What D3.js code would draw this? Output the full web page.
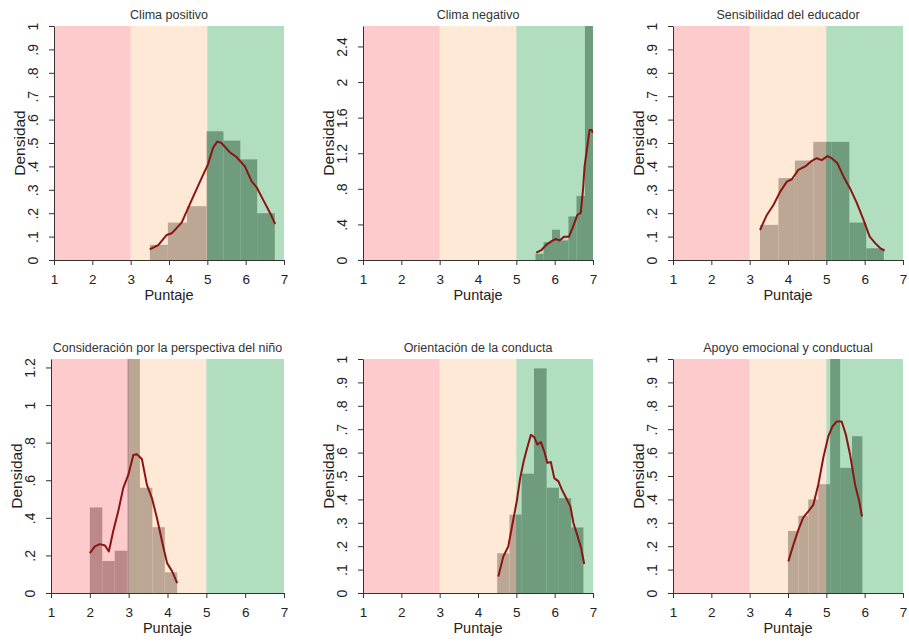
<!DOCTYPE html>
<html>
<head>
<meta charset="utf-8">
<script src="https://cdn.jsdelivr.net/npm/d3@7"></script>
<style>
  html, body { margin: 0; padding: 0; background: #ffffff; }
  svg { display: block; font-family: "Liberation Sans", Arial, sans-serif; }
</style>
</head>
<body>
<svg id="chart" width="909" height="642"></svg>
<script>
// ---------------- DATA ----------------
const panelTitles = [
  "Clima positivo",
  "Clima negativo",
  "Sensibilidad del educador",
  "Consideración por la perspectiva del niño",
  "Orientación de la conducta",
  "Apoyo emocional y conductual"
];
const xTickValues = [1, 2, 3, 4, 5, 6, 7];
const xTitle = "Puntaje";
const yTitle = "Densidad";

// score bands (Puntaje): low / medium / high
const bandStarts = [1, 3, 5];
const bandEnds = [3, 5, 7];

// y-axis maxima and ticks
const yMaxima = [1, 2.63, 1, 1.245, 1, 1];
const yTicksUnit = [0, 0.1, 0.2, 0.3, 0.4, 0.5, 0.6, 0.7, 0.8, 0.9, 1];
const yTicksNeg = [0, 0.4, 0.8, 1.2, 1.6, 2, 2.4];
const yTicksPersp = [0, 0.2, 0.4, 0.6, 0.8, 1, 1.2];

// histograms: bin edges and densities
const posEdges = [3.5, 3.97, 4.47, 4.98, 5.42, 5.86, 6.3, 6.76];
const posDens  = [0.065, 0.16, 0.23, 0.55, 0.51, 0.43, 0.20];
const negEdges = [5.5, 5.71, 5.93, 6.14, 6.36, 6.57, 6.79, 7.0];
const negDens  = [0.07, 0.2, 0.34, 0.22, 0.49, 0.72, 2.63];
const senEdges = [3.27, 3.75, 4.18, 4.66, 5.13, 5.6, 6.04, 6.5];
const senDens  = [0.15, 0.35, 0.425, 0.505, 0.505, 0.16, 0.05];
const perEdges = [2.0, 2.32, 2.64, 2.97, 3.29, 3.61, 3.93, 4.25];
const perDens  = [0.455, 0.17, 0.225, 1.245, 0.56, 0.35, 0.11];
const oriEdges = [4.5, 4.82, 5.14, 5.46, 5.79, 6.11, 6.43, 6.75];
const oriDens  = [0.17, 0.335, 0.51, 0.96, 0.45, 0.405, 0.28];
const apoEdges = [4.0, 4.27, 4.53, 4.79, 5.1, 5.36, 5.67, 5.94];
const apoDens  = [0.265, 0.33, 0.40, 0.465, 1.0, 0.535, 0.67];

// kernel density curves
const posKdeX = [3.5, 3.72, 3.94, 4.07, 4.33, 4.59, 4.85, 5.02, 5.15, 5.26, 5.37, 5.59, 5.76, 5.98, 6.16, 6.29, 6.46, 6.64, 6.77];
const posKdeY = [0.046, 0.064, 0.107, 0.114, 0.16, 0.256, 0.35, 0.41, 0.48, 0.506, 0.50, 0.46, 0.44, 0.40, 0.335, 0.31, 0.256, 0.20, 0.154];
const negKdeX = [5.52, 5.65, 5.78, 5.91, 6.02, 6.13, 6.24, 6.37, 6.48, 6.59, 6.68, 6.74, 6.78, 6.85, 6.91, 6.97, 7.0];
const negKdeY = [0.082, 0.11, 0.17, 0.21, 0.236, 0.22, 0.26, 0.26, 0.375, 0.506, 0.53, 0.79, 1.05, 1.27, 1.46, 1.46, 1.43];
const senKdeX = [3.27, 3.44, 3.62, 3.79, 3.97, 4.10, 4.27, 4.45, 4.62, 4.75, 4.88, 5.03, 5.14, 5.29, 5.45, 5.62, 5.80, 5.97, 6.13, 6.28, 6.41, 6.52];
const senKdeY = [0.128, 0.19, 0.235, 0.29, 0.335, 0.345, 0.385, 0.40, 0.424, 0.435, 0.427, 0.444, 0.435, 0.413, 0.356, 0.306, 0.242, 0.171, 0.10, 0.071, 0.05, 0.04];
const perKdeX = [2.0, 2.13, 2.26, 2.39, 2.49, 2.60, 2.73, 2.86, 2.99, 3.12, 3.21, 3.34, 3.47, 3.60, 3.73, 3.86, 3.99, 4.12, 4.25];
const perKdeY = [0.212, 0.248, 0.26, 0.253, 0.221, 0.327, 0.433, 0.558, 0.628, 0.734, 0.738, 0.713, 0.575, 0.504, 0.398, 0.274, 0.159, 0.115, 0.053];
const oriKdeX = [4.53, 4.66, 4.79, 4.88, 5.01, 5.10, 5.19, 5.27, 5.38, 5.47, 5.55, 5.64, 5.73, 5.81, 5.90, 5.99, 6.10, 6.19, 6.30, 6.41, 6.49, 6.60, 6.69, 6.77];
const oriKdeY = [0.071, 0.156, 0.199, 0.278, 0.391, 0.491, 0.562, 0.612, 0.676, 0.665, 0.634, 0.645, 0.605, 0.556, 0.56, 0.491, 0.477, 0.441, 0.406, 0.37, 0.299, 0.242, 0.192, 0.124];
const apoKdeX = [4.01, 4.14, 4.27, 4.40, 4.53, 4.66, 4.79, 4.92, 5.05, 5.16, 5.27, 5.40, 5.51, 5.62, 5.75, 5.86, 5.93];
const apoKdeY = [0.135, 0.206, 0.27, 0.323, 0.349, 0.377, 0.463, 0.577, 0.669, 0.712, 0.733, 0.733, 0.676, 0.591, 0.463, 0.391, 0.327];

// ---------------- LAYOUT / STYLE ----------------
const panels = [
  { edges: posEdges, dens: posDens, kx: posKdeX, ky: posKdeY, ticks: yTicksUnit, box: [54, 284, 26, 260] },
  { edges: negEdges, dens: negDens, kx: negKdeX, ky: negKdeY, ticks: yTicksNeg, box: [363, 593, 26, 260] },
  { edges: senEdges, dens: senDens, kx: senKdeX, ky: senKdeY, ticks: yTicksUnit, box: [673, 903, 26, 260] },
  { edges: perEdges, dens: perDens, kx: perKdeX, ky: perKdeY, ticks: yTicksPersp, box: [51, 284, 359, 593] },
  { edges: oriEdges, dens: oriDens, kx: oriKdeX, ky: oriKdeY, ticks: yTicksUnit, box: [363, 593, 359, 593] },
  { edges: apoEdges, dens: apoDens, kx: apoKdeX, ky: apoKdeY, ticks: yTicksUnit, box: [673, 903, 359, 593] }
];
const bandColors = ["rgb(251,151,151)", "rgb(251,211,171)", "rgb(97,189,125)"];
const bandOpacity = 0.5;
const barColor = "rgb(122,122,122)";
const lineColor = "#8c1414";
const axisColor = "#333333";
const textColor = "#222222";

function fmt(v) {
  let s = String(+v.toFixed(2));
  if (s.startsWith("0.")) s = s.slice(1);
  return s;
}

const svg = d3.select("#chart");

panels.forEach((p, i) => {
  const [x0, x1, y0, y1] = p.box;
  const x = d3.scaleLinear().domain([1, 7]).range([x0, x1]);
  const y = d3.scaleLinear().domain([0, yMaxima[i]]).range([y1, y0]);
  const g = svg.append("g");

  const clipId = "clip" + i;
  g.append("clipPath").attr("id", clipId)
    .append("rect").attr("x", x0).attr("y", y0).attr("width", x1 - x0).attr("height", y1 - y0);

  const plot = g.append("g").attr("clip-path", `url(#${clipId})`);

  // histogram bars (under translucent bands)
  const bins = p.dens.map((d, k) => ({ a: p.edges[k], b: p.edges[k + 1], d }));
  plot.selectAll("rect.bar").data(bins).join("rect")
    .attr("class", "bar")
    .attr("x", d => x(d.a))
    .attr("width", d => x(d.b) - x(d.a))
    .attr("y", d => y(d.d))
    .attr("height", d => y(0) - y(d.d))
    .attr("fill", barColor);

  // score bands
  const bands = bandStarts.map((s, k) => ({ s, e: bandEnds[k], c: bandColors[k] }));
  plot.selectAll("rect.band").data(bands).join("rect")
    .attr("class", "band")
    .attr("x", d => x(d.s))
    .attr("width", d => x(d.e) - x(d.s))
    .attr("y", y(yMaxima[i]))
    .attr("height", y(0) - y(yMaxima[i]))
    .attr("fill", d => d.c)
    .attr("fill-opacity", bandOpacity);

  // density curve
  const pts = p.kx.map((v, k) => [v, p.ky[k]]);
  plot.append("path")
    .datum(pts)
    .attr("d", d3.line().x(d => x(d[0])).y(d => y(d[1])))
    .attr("fill", "none")
    .attr("stroke", lineColor)
    .attr("stroke-width", 2)
    .attr("stroke-linejoin", "round");

  // x axis
  const xa = g.append("g").attr("transform", `translate(0,${y1})`)
    .call(d3.axisBottom(x).tickValues(xTickValues).tickFormat(d3.format("d")).tickSize(5).tickSizeOuter(0));
  xa.select(".domain").attr("stroke", axisColor);
  xa.selectAll(".tick line").attr("stroke", axisColor);
  xa.selectAll(".tick text").attr("y", 23.5).attr("dy", 0)
    .attr("font-size", 13.5).attr("fill", textColor)
    .attr("font-family", '"Liberation Sans", Arial, sans-serif');

  // y axis
  const ya = g.append("g").attr("transform", `translate(${x0},0)`)
    .call(d3.axisLeft(y).tickValues(p.ticks).tickFormat(fmt).tickSize(5).tickSizeOuter(0));
  ya.select(".domain").attr("stroke", axisColor);
  ya.selectAll(".tick line").attr("stroke", axisColor);
  ya.selectAll(".tick text")
    .attr("x", 0).attr("dy", 0)
    .attr("text-anchor", "middle")
    .attr("transform", "translate(-16,0) rotate(-90)")
    .attr("font-size", 14).attr("fill", textColor)
    .attr("font-family", '"Liberation Sans", Arial, sans-serif');

  // titles
  g.append("text")
    .attr("x", (x0 + x1) / 2).attr("y", y0 - 7)
    .attr("text-anchor", "middle")
    .attr("font-size", 12.5).attr("fill", "#333333")
    .text(panelTitles[i]);

  g.append("text")
    .attr("x", (x0 + x1) / 2).attr("y", y1 + 40)
    .attr("text-anchor", "middle")
    .attr("font-size", 14.5).attr("fill", textColor)
    .text(xTitle);

  g.append("text")
    .attr("transform", `translate(${x0 - 29},${(y0 + y1) / 2}) rotate(-90)`)
    .attr("text-anchor", "middle")
    .attr("font-size", 15.5).attr("fill", textColor)
    .text(yTitle);
});
</script>
</body>
</html>
